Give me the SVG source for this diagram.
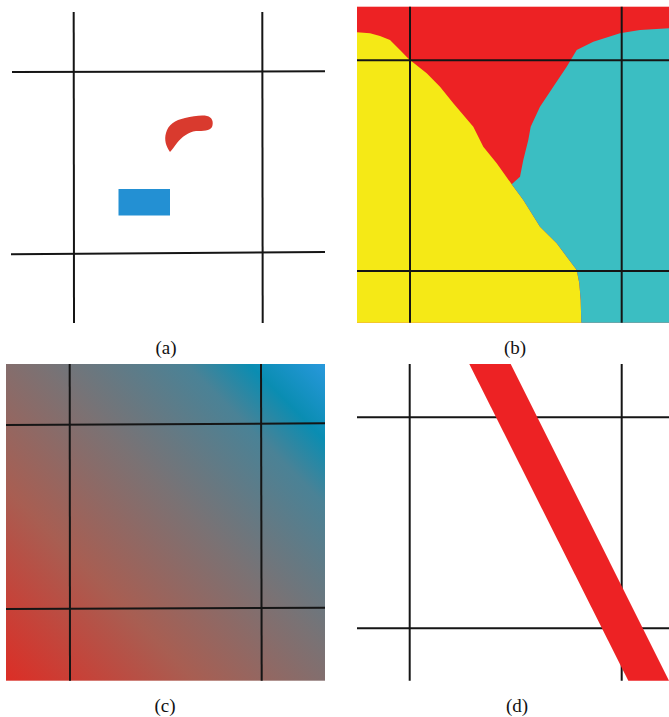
<svg xmlns="http://www.w3.org/2000/svg" width="669" height="717" viewBox="0 0 669 717">
<style>
.ln{stroke:#151515;stroke-width:2;fill:none}
.lb{font-family:"Liberation Serif",serif;font-size:19px;fill:#111;text-anchor:middle}
</style>
<defs>
<linearGradient id="gc" x1="6" y1="680" x2="325" y2="364" gradientUnits="userSpaceOnUse">
<stop offset="0" stop-color="#dc2e26"/>
<stop offset="0.3" stop-color="#a85e52"/>
<stop offset="0.55" stop-color="#7a7274"/>
<stop offset="0.78" stop-color="#4a8296"/>
<stop offset="0.88" stop-color="#0a8db2"/>
<stop offset="1" stop-color="#2898dc"/>
</linearGradient>
</defs>
<rect width="669" height="717" fill="#fff"/>
<g id="panel-a">
<path d="M170,152 C166,146 164,140 166,133 C168,125 175,120 185,118 C193,116 202,115 207,116 C212,117 214,122 212,127 C210,131 203,131 196,131 C188,132 182,137 177,143 C174,147 172,150 170,152 Z" fill="#d93a2e"/>
<rect x="118.5" y="189" width="51.5" height="26.5" fill="#2390d3"/>
<line class="ln" x1="73.7" y1="12" x2="74" y2="323"/>
<line class="ln" x1="262.3" y1="12" x2="262.7" y2="323"/>
<line class="ln" x1="12" y1="72" x2="325" y2="71.3"/>
<line class="ln" x1="11" y1="254.3" x2="325" y2="252"/>
<text class="lb" x="166" y="354">(a)</text>
</g>
<g id="panel-b">
<rect x="357" y="6.7" width="312" height="316" fill="#ed2224"/>
<path d="M357,32.3 L370,33.3 L380,36 L390,40 L400,50 L409,59.3 L426.7,73.3 L440,86.7 L453.3,103.3 L473.3,126.7 L483.3,146.7 L496.7,163.3 L511.7,184.3 L523.3,200 L540,226.7 L556.7,243.3 L566.7,256.7 L576.7,270 L579.3,283.3 L580.7,300 L581.3,322.7 L357,322.7 Z" fill="#f5e916"/>
<path d="M511.7,184.3 L520,176.7 L523.3,160 L528.3,140 L530.7,126.7 L540,106.7 L553.3,86.7 L566.7,66.7 L576.7,50 L593.3,41.7 L620,33.3 L640,30 L669,28.3 L669,322.7 L581.3,322.7 L580.7,300 L579.3,283.3 L576.7,270 L566.7,256.7 L556.7,243.3 L540,226.7 L523.3,200 Z" fill="#3bbec2"/>
<line class="ln" x1="410" y1="6.7" x2="410" y2="322.7"/>
<line class="ln" x1="621.7" y1="6.7" x2="621.7" y2="322.7"/>
<line class="ln" x1="357" y1="60.3" x2="669" y2="60.3"/>
<line class="ln" x1="357" y1="271" x2="669" y2="271"/>
<text class="lb" x="515" y="354">(b)</text>
</g>
<g id="panel-c">
<rect x="6" y="364" width="319" height="316.7" fill="url(#gc)"/>
<line class="ln" x1="69.7" y1="364" x2="70" y2="680.7"/>
<line class="ln" x1="261" y1="364" x2="261.7" y2="680.7"/>
<line class="ln" x1="6" y1="425" x2="325" y2="423.3"/>
<line class="ln" x1="6" y1="609" x2="325" y2="607.7"/>
<text class="lb" x="165" y="712">(c)</text>
</g>
<g id="panel-d">
<line class="ln" x1="409.7" y1="364" x2="409.7" y2="680.7"/>
<line class="ln" x1="621.7" y1="364" x2="621.7" y2="680.7"/>
<line class="ln" x1="357" y1="417.3" x2="669" y2="417.3"/>
<line class="ln" x1="357" y1="628.3" x2="669" y2="628.3"/>
<polygon points="469.3,364 510.7,364 669,680.7 628.3,680.7" fill="#ed2224"/>
<text class="lb" x="517" y="712">(d)</text>
</g>
</svg>
